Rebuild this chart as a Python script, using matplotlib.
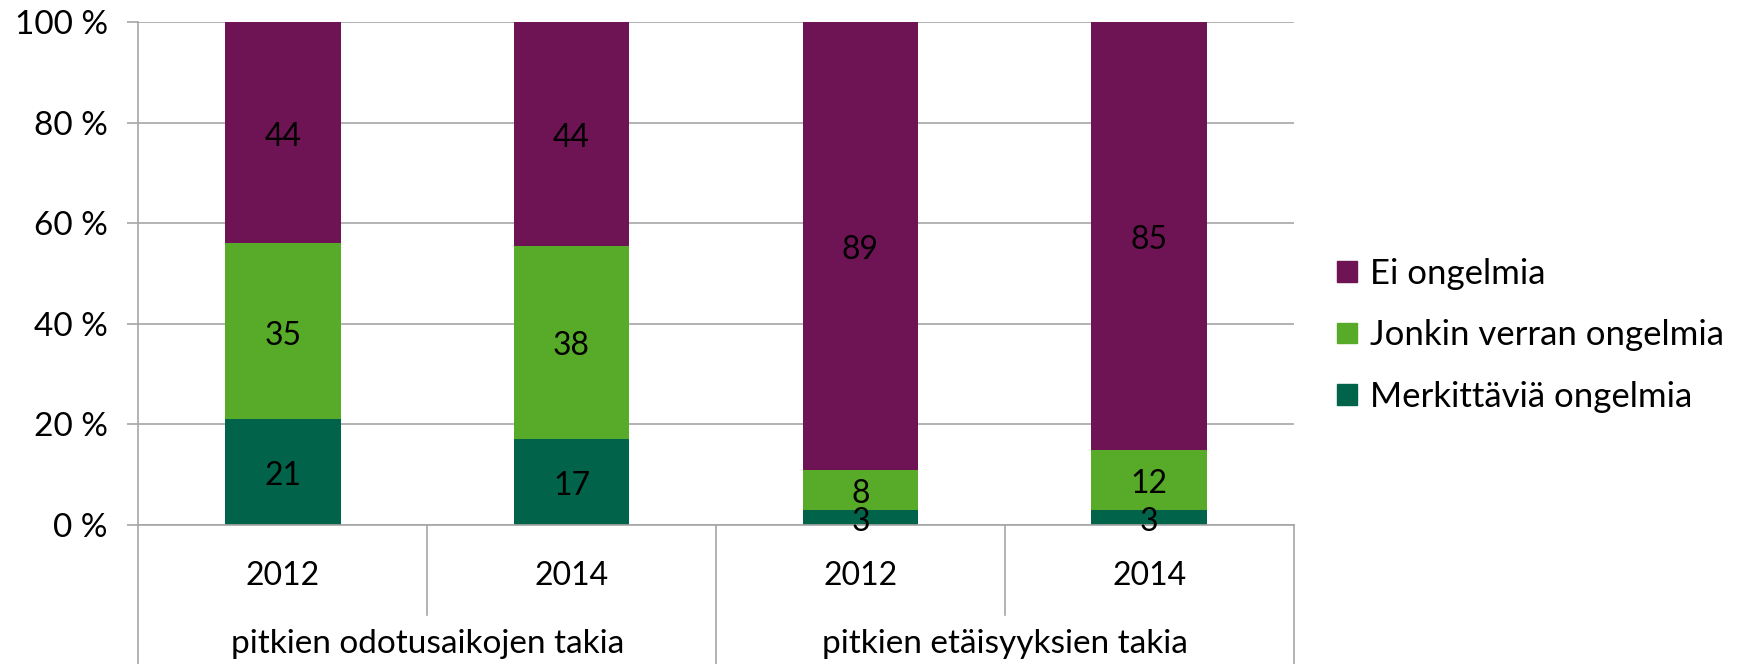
import matplotlib.pyplot as plt
from matplotlib.patches import Patch

plt.rcParams['font.family'] = ['Lato', 'DejaVu Sans']

years = ['2012', '2014', '2012', '2014']
groups = ['pitkien odotusaikojen takia', 'pitkien etäisyyksien takia']
merkittavia = [21, 17, 3, 3]
jonkin = [35, 38, 8, 12]
ei = [44, 44, 89, 85]
series_names = ['Merkittäviä ongelmia', 'Jonkin verran ongelmia', 'Ei ongelmia']
colors = ['#00634A', '#58AA29', '#6E1455']

fig = plt.figure(figsize=(17.37, 6.64), dpi=100)
ax = fig.add_axes([0.0797, 0.2093, 0.665, 0.7576])

# scale each bar to 100 %
totals = [a + b + c for a, b, c in zip(merkittavia, jonkin, ei)]
x = [i + 0.5 for i in range(len(years))]
bottom = [0] * len(years)
for vals, name, col in zip([merkittavia, jonkin, ei], series_names, colors):
    h = [v / t * 100 for v, t in zip(vals, totals)]
    ax.bar(x, h, width=0.4, bottom=bottom, color=col, zorder=3, label=name)
    for xi, b, hi, v in zip(x, bottom, h, vals):
        ax.annotate(str(v), (xi, b + hi / 2), xytext=(0, -3), textcoords='offset points',
                    ha='center', va='center', fontsize=23, color='black', zorder=6)
    bottom = [b + hi for b, hi in zip(bottom, h)]

grey = '#A6A6A6'
ax.set_xlim(0, 4)
ax.set_ylim(0, 100)
ax.set_yticks([0, 20, 40, 60, 80, 100])
ax.set_yticklabels([f'{t} %' for t in range(0, 101, 20)])
ax.yaxis.grid(True, color=grey, linewidth=1.2, zorder=0)
ax.tick_params(axis='y', length=8, color=grey, width=1.2, labelsize=24, pad=14)
ax.set_xticks([])
for s in ['top', 'right', 'bottom']:
    ax.spines[s].set_visible(False)
ax.spines['left'].set_color(grey)
ax.spines['left'].set_linewidth(1.2)

# category axis below the plot
tr = ax.get_xaxis_transform()
ax.plot([0, 4], [0, 0], color=grey, lw=1.2, transform=tr, clip_on=False, zorder=5)
for xv in [0, 2, 4]:
    ax.plot([xv, xv], [0, -0.3], color=grey, lw=1.2, transform=tr, clip_on=False)
for xv in [1, 3]:
    ax.plot([xv, xv], [0, -0.179], color=grey, lw=1.2, transform=tr, clip_on=False)
for xi, y in zip(x, years):
    ax.text(xi, -0.101, y, ha='center', va='center', fontsize=23, transform=tr)
for i, g in enumerate(groups):
    ax.text(2 * i + 1, -0.236, g, ha='center', va='center', fontsize=24, transform=tr)

handles = [Patch(color=c, label=n) for c, n in zip(colors, series_names)][::-1]
fig.legend(handles=handles, loc='center left', bbox_to_anchor=(0.752, 0.495), frameon=False,
           fontsize=25, handlelength=0.55, handleheight=0.55, handletextpad=0.4, labelspacing=0.85)

fig.savefig('out.png', dpi=100)
